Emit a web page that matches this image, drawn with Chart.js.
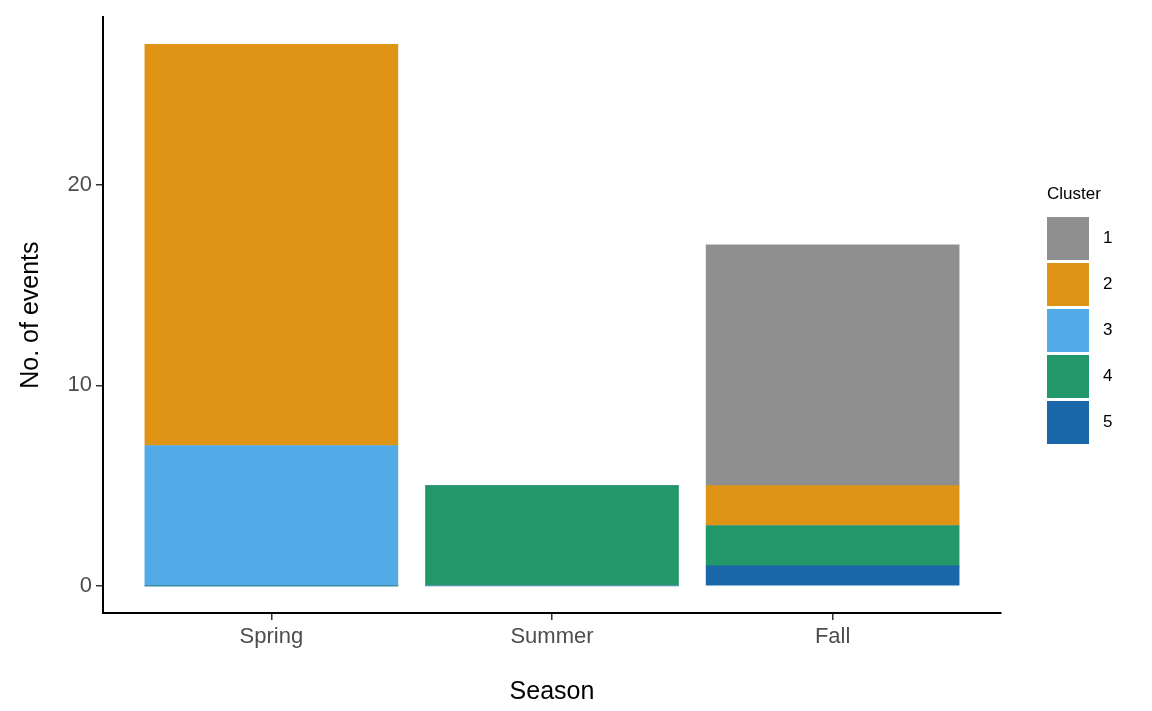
<!DOCTYPE html>
<html><head><meta charset="utf-8">
<script src="https://cdn.jsdelivr.net/npm/chart.js@4"></script>
<style>
body{margin:0;background:#fff;font-family:"Liberation Sans",Arial,sans-serif}
#wrap{position:relative;width:1152px;height:711px}
#legend{position:absolute;left:1047px;top:184px;font-size:17px;color:#000}
.key{display:flex;align-items:center;height:46px}
.sw{width:42px;height:43px;margin-right:14px}
</style></head>
<body><div id="wrap"><canvas id="c" width="1152" height="711"></canvas>
<div id="legend"><div style="margin-bottom:11px">Cluster</div></div></div>
<script>
const seasons = ['Spring', 'Summer', 'Fall'];
const clusters = ['5', '4', '3', '2', '1'];
const clusterValues = [
    [0, 0, 1],   // 5
    [0, 5, 2],   // 4
    [7, 0, 0],   // 3
    [20, 0, 2],  // 2
    [0, 0, 12]   // 1
];
const clusterColors = ['#1a68aa', '#229769', '#52aae6', '#e09415', '#8f8f8f'];
const yTicks = [0, 10, 20];

const datasets = clusters.map((c, i) => ({
    label: c,
    data: clusterValues[i].map((v, j) => ({ x: j + 1, y: v })),
    backgroundColor: clusterColors[i],
    borderWidth: 0,
    barThickness: 253
}));

new Chart(document.getElementById('c'), {
    type: 'bar',
    data: { datasets },
    options: {
        responsive: false,
        animation: false,
        layout: { padding: { top: 15, right: 151, left: 0, bottom: 0 } },
        plugins: { legend: { display: false }, tooltip: { enabled: false } },
        scales: {
            x: {
                type: 'linear', stacked: true, min: 0.4, max: 3.6, offset: false,
                afterBuildTicks: s => { s.ticks = seasons.map((_, i) => ({ value: i + 1 })); },
                afterFit: s => { s.height = 98; },
                ticks: { callback: v => seasons[v - 1], color: '#4d4d4d', font: { size: 22 }, padding: 4, maxRotation: 0 },
                grid: { drawOnChartArea: false, offset: false, tickLength: 7, color: '#333', lineWidth: 1.5 },
                border: { color: '#000', width: 2 },
                title: { display: true, text: 'Season', color: '#000', font: { size: 25 }, padding: { top: 6 } }
            },
            y: {
                stacked: true, min: -1.35, max: 28.35,
                afterBuildTicks: s => { s.ticks = yTicks.map(v => ({ value: v })); },
                afterFit: s => { s.width = 103; },
                ticks: { color: '#4d4d4d', font: { size: 22 }, padding: 4 },
                grid: { drawOnChartArea: false, tickLength: 7, color: '#333', lineWidth: 1.5 },
                border: { color: '#000', width: 2 },
                title: { display: true, text: 'No. of events', color: '#000', font: { size: 25 }, padding: { top: 16, bottom: 8 } }
            }
        }
    }
});

const legend = document.getElementById('legend');
for (let i = clusters.length - 1; i >= 0; i--) {
    const k = document.createElement('div');
    k.className = 'key';
    k.innerHTML = `<div class="sw" style="background:${clusterColors[i]}"></div>${clusters[i]}`;
    legend.appendChild(k);
}
</script></body></html>
